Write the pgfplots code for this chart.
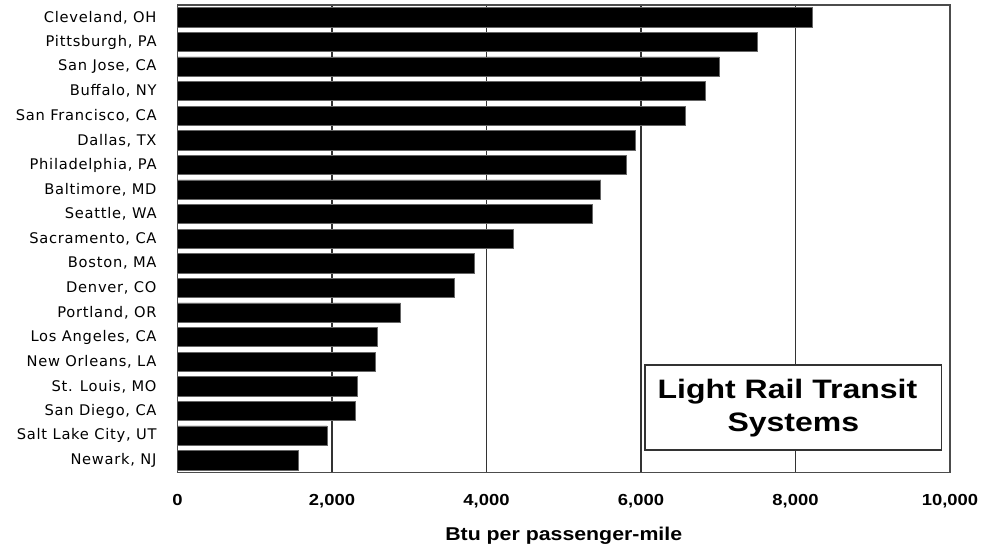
\documentclass[border=0pt]{standalone}
\usepackage{pgfplots}
\pgfplotsset{compat=1.18}
\usepackage{fontspec}
\setmainfont{Liberation Sans}
\newfontfamily\catfont[LetterSpace=5]{DejaVu Sans}
\newfontfamily\widefont[FakeStretch=1.15]{Liberation Sans}
\newfontfamily\titlefont[FakeStretch=1.2]{Liberation Sans}
\begin{document}
\begin{tikzpicture}
\begin{axis}[
  at={(0,0)}, anchor=south west,
  scale only axis,
  width=579.4pt, height=350.6pt,
  xmin=0, xmax=10000,
  ymin=-0.5, ymax=18.5,
  y dir=reverse,
  xbar, bar width=14.5pt,
  scaled x ticks=false,
  xtick={0,2000,4000,6000,8000,10000},
  xticklabels={0,{2,000},{4,000},{6,000},{8,000},{10,000}},
  ytick={0,...,18},
  yticklabels={{Cleveland, OH},{Pittsburgh, PA},{San Jose, CA},{Buffalo, NY},{San Francisco, CA},{Dallas, TX},{Philadelphia, PA},{Baltimore, MD},{Seattle, WA},{Sacramento, CA},{Boston, MA},{Denver, CO},{Portland, OR},{Los Angeles, CA},{New Orleans, LA},{St. Louis, MO},{San Diego, CA},{Salt Lake City, UT},{Newark, NJ}},
  major tick length=0pt,
  xmajorgrids,
  major grid style={line width=1.1pt, color=black!80},
  axis line style={line width=1.3pt, color=black!70},
  yticklabel style={font=\catfont\fontsize{11}{12}\selectfont, anchor=east, inner sep=0pt, xshift=-15.5pt},
  xticklabel style={font=\widefont\bfseries\fontsize{12}{14}\selectfont, anchor=north, inner sep=0pt, yshift=-16.5pt},
  xlabel={Btu per passenger-mile},
  xlabel style={font=\widefont\bfseries\fontsize{13.9}{16}\selectfont, at={(axis description cs:0.5,0)}, anchor=north, inner sep=0pt, yshift=-40.5pt},
]
\addplot[fill=black, draw=black!60, line width=0.6pt] coordinates {
(8220,0) (7505,1) (7015,2) (6830,3) (6575,4) (5925,5) (5810,6) (5480,7) (5370,8) (4347,9) (3838,10) (3579,11) (2884,12) (2587,13) (2561,14) (2328,15) (2307,16) (1935,17) (1564,18)
};
\draw[fill=white, draw=black!80, line width=1.1pt] (axis cs:6052,14.13) rectangle (axis cs:9893,17.59);
\node[font=\titlefont\bfseries\fontsize{20}{24}\selectfont] at (axis cs:7895,15.23) {Light Rail Transit};
\node[font=\titlefont\bfseries\fontsize{20}{24}\selectfont] at (axis cs:7972,16.57) {Systems};
\end{axis}
\pgfresetboundingbox
\path[use as bounding box] (-133.1pt,-58.1pt) rectangle (604.9pt,354.4pt);
\end{tikzpicture}
\end{document}
